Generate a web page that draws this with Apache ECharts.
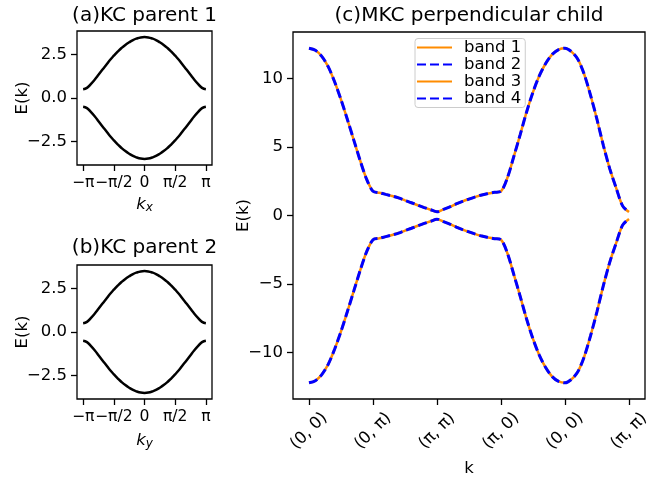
<!DOCTYPE html>
<html><head><meta charset="utf-8">
<script src="https://cdn.jsdelivr.net/npm/echarts@6/dist/echarts.min.js"></script>
<style>html,body{margin:0;padding:0;background:#fff}#c{width:667px;height:479px}</style>
</head><body><div id="c"></div>
<script>
// ---- data ----
// k in units of pi for the two parent chains
const kPi = [-1,-0.9375,-0.875,-0.8125,-0.75,-0.6875,-0.625,-0.5625,-0.5,-0.4375,-0.375,-0.3125,-0.25,-0.1875,-0.125,-0.0625,0,0.0625,0.125,0.1875,0.25,0.3125,0.375,0.4375,0.5,0.5625,0.625,0.6875,0.75,0.8125,0.875,0.9375,1];
const parent1Upper = [0.5,0.58,0.8,1.05,1.33,1.62,1.9,2.18,2.43,2.66,2.87,3.05,3.2,3.33,3.42,3.48,3.5,3.48,3.42,3.33,3.2,3.05,2.87,2.66,2.43,2.18,1.9,1.62,1.33,1.05,0.8,0.58,0.5];
const parent1Lower = [-0.5,-0.58,-0.8,-1.05,-1.33,-1.62,-1.9,-2.18,-2.43,-2.66,-2.87,-3.05,-3.2,-3.33,-3.42,-3.48,-3.5,-3.48,-3.42,-3.33,-3.2,-3.05,-2.87,-2.66,-2.43,-2.18,-1.9,-1.62,-1.33,-1.05,-0.8,-0.58,-0.5];
const parent2Upper = [0.5,0.58,0.8,1.05,1.33,1.62,1.9,2.18,2.43,2.66,2.87,3.05,3.2,3.33,3.42,3.48,3.5,3.48,3.42,3.33,3.2,3.05,2.87,2.66,2.43,2.18,1.9,1.62,1.33,1.05,0.8,0.58,0.5];
const parent2Lower = [-0.5,-0.58,-0.8,-1.05,-1.33,-1.62,-1.9,-2.18,-2.43,-2.66,-2.87,-3.05,-3.2,-3.33,-3.42,-3.48,-3.5,-3.48,-3.42,-3.33,-3.2,-3.05,-2.87,-2.66,-2.43,-2.18,-1.9,-1.62,-1.33,-1.05,-0.8,-0.58,-0.5];
const kTickValues = [-1,-0.5,0,0.5,1];
const kTickLabels = ['\u2212\u03c0','\u2212\u03c0/2','0','\u03c0/2','\u03c0'];
const parentYTicks = [-2.5,0,2.5];
const parentYLabels = ['\u22122.5','0.0','2.5'];

// path coordinate for the child (segments between high-symmetry points)
const pathT = [0,0.1,0.2,0.3,0.4,0.5,0.6,0.7,0.8,0.9,1.0,1.1,1.2,1.3,1.4,1.5,1.6,1.7,1.8,1.9,2.0,2.1,2.2,2.3,2.4,2.5,2.6,2.7,2.8,2.9,3.0,3.1,3.2,3.3,3.4,3.5,3.6,3.7,3.8,3.9,4.0,4.1,4.2,4.3,4.4,4.5,4.6,4.7,4.8,4.9,5.0];
const childUpper = [12.2,12.05,11.6,10.85,9.75,8.45,7.0,5.5,4.0,2.65,1.77,1.66,1.54,1.42,1.28,1.1,0.93,0.75,0.58,0.42,0.27,0.45,0.63,0.84,1.03,1.2,1.36,1.5,1.6,1.69,1.77,2.75,4.3,5.9,7.55,9.0,10.2,11.1,11.75,12.1,12.2,11.95,11.4,10.3,8.75,7.0,5.1,3.4,2.0,0.7,0.25];
const childLower = [-12.2,-12.05,-11.6,-10.85,-9.75,-8.45,-7.0,-5.5,-4.0,-2.65,-1.77,-1.66,-1.54,-1.42,-1.28,-1.1,-0.93,-0.75,-0.58,-0.42,-0.27,-0.45,-0.63,-0.84,-1.03,-1.2,-1.36,-1.5,-1.6,-1.69,-1.77,-2.75,-4.3,-5.9,-7.55,-9.0,-10.2,-11.1,-11.75,-12.1,-12.2,-11.95,-11.4,-10.3,-8.75,-7.0,-5.1,-3.4,-2.0,-0.7,-0.25];
const pathTickValues = [0,1,2,3,4,5];
const pathTickLabels = ['(0, 0)','(0, \u03c0)','(\u03c0, \u03c0)','(\u03c0, 0)','(0, 0)','(\u03c0, \u03c0)'];
const childYTicks = [-10,-5,0,5,10];
const childYLabels = ['\u221210','\u22125','0','5','10'];
const bandNames = ['band 1','band 2','band 3','band 4'];

// ---- chart ----
const FONT = 'DejaVu Sans';
const FS = 16.5;
const zip = (a,b) => a.map((v,i)=>[v,b[i]]);
const labelFor = (vals, labels) => v => { for (let i=0;i<vals.length;i++) if (Math.abs(v-vals[i])<1e-6) return labels[i]; return ''; };

function grid(left, top, width, height){
  return {left, top, width, height, show:true, borderColor:'#000', borderWidth:1.3, backgroundColor:'transparent', containLabel:false, outerBoundsMode:'none'};
}
function valAxis(gi, min, max, ticks, labels, extra){
  return Object.assign({
    type:'value', gridIndex:gi, min, max, scale:true,
    nameMoveOverlap:false,
    axisLine:{show:false, onZero:false}, splitLine:{show:false},
    axisTick:{show:true, length:6, inside:false, customValues:ticks, lineStyle:{color:'#000', width:1.3}},
    axisLabel:{customValues:ticks, formatter:labelFor(ticks, labels), color:'#000', fontSize:FS, fontFamily:FONT, margin:10, hideOverlap:false, showMinLabel:true, showMaxLabel:true}
  }, extra||{});
}
const nameStyle = {color:'#000', fontSize:FS, fontFamily:FONT};
const subRich = {k:{fontStyle:'italic', fontSize:FS, fontFamily:FONT, color:'#000'}, s:{fontStyle:'italic', fontSize:12, fontFamily:FONT, color:'#000', padding:[7,0,0,0]}};

function parentX(gi, sub, gap){
  const a = valAxis(gi,-1.1,1.1,kTickValues,kTickLabels,{name:'{k|k}{s|'+sub+'}', nameLocation:'middle', nameGap:gap, nameTextStyle:{rich:subRich}});
  a.axisLabel.fontSize = 15.6;
  return a;
}

const option = {
  backgroundColor:'#fff',
  animation:false,
  grid:[grid(77,31,135,134), grid(77,265,135,134), grid(293,32,352,367)],
  xAxis:[
    parentX(0,'x',30),
    parentX(1,'y',32),
    (function(){const a = valAxis(2,-0.25,5.25,pathTickValues,pathTickLabels,{name:'k', nameLocation:'middle', nameGap:61, nameTextStyle:nameStyle});
      a.axisLabel.rotate = 45; a.axisLabel.align='center'; a.axisLabel.verticalAlign='middle'; a.axisLabel.margin=32; return a;})()
  ],
  yAxis:[
    valAxis(0,-3.85,3.85,parentYTicks,parentYLabels,{name:'E(k)', nameLocation:'middle', nameGap:46, nameRotate:90, nameTextStyle:nameStyle}),
    valAxis(1,-3.85,3.85,parentYTicks,parentYLabels,{name:'E(k)', nameLocation:'middle', nameGap:46, nameRotate:90, nameTextStyle:nameStyle}),
    valAxis(2,-13.38,13.38,childYTicks,childYLabels,{name:'E(k)', nameLocation:'middle', nameGap:41, nameRotate:90, nameTextStyle:nameStyle})
  ],
  legend:{
    show:true, data:bandNames, orient:'vertical', left:415, top:38.5,
    itemWidth:35, itemHeight:10, itemGap:0, padding:[0.5,4,0.5,1],
    backgroundColor:'rgba(255,255,255,0.8)', borderColor:'#cccccc', borderWidth:1, borderRadius:3,
    itemStyle:{color:'transparent', borderColor:'transparent', borderWidth:0},
    textStyle:{color:'#000', fontSize:FS, fontFamily:FONT, lineHeight:16.5, padding:[0,0,0,7]},
    selectedMode:false
  },
  graphic:[
    {type:'text', x:144.5, y:15.5, style:{text:'(a)KC parent 1', fontSize:20, fontFamily:FONT, fill:'#000', align:'center', verticalAlign:'middle'}},
    {type:'text', x:144.5, y:248, style:{text:'(b)KC parent 2', fontSize:20, fontFamily:FONT, fill:'#000', align:'center', verticalAlign:'middle'}},
    {type:'text', x:469, y:15.5, style:{text:'(c)MKC perpendicular child', fontSize:20, fontFamily:FONT, fill:'#000', align:'center', verticalAlign:'middle'}}
  ],
  series:[
    {type:'line', name:'p1u', xAxisIndex:0, yAxisIndex:0, data:zip(kPi,parent1Upper), smooth:true, symbol:'none', lineStyle:{color:'#000', width:2.5}},
    {type:'line', name:'p1l', xAxisIndex:0, yAxisIndex:0, data:zip(kPi,parent1Lower), smooth:true, symbol:'none', lineStyle:{color:'#000', width:2.5}},
    {type:'line', name:'p2u', xAxisIndex:1, yAxisIndex:1, data:zip(kPi,parent2Upper), smooth:true, symbol:'none', lineStyle:{color:'#000', width:2.5}},
    {type:'line', name:'p2l', xAxisIndex:1, yAxisIndex:1, data:zip(kPi,parent2Lower), smooth:true, symbol:'none', lineStyle:{color:'#000', width:2.5}},
    {type:'line', name:bandNames[0], xAxisIndex:2, yAxisIndex:2, data:zip(pathT,childLower), smooth:0.3, symbol:'none', itemStyle:{color:'#ff8c00'}, lineStyle:{color:'#ff8c00', width:2.5}},
    {type:'line', name:bandNames[1], xAxisIndex:2, yAxisIndex:2, data:zip(pathT,childLower), smooth:0.3, symbol:'none', itemStyle:{color:'#0000ff'}, lineStyle:{color:'#0000ff', width:3, type:[9,4]}},
    {type:'line', name:bandNames[2], xAxisIndex:2, yAxisIndex:2, data:zip(pathT,childUpper), smooth:0.3, symbol:'none', itemStyle:{color:'#ff8c00'}, lineStyle:{color:'#ff8c00', width:2.5}},
    {type:'line', name:bandNames[3], xAxisIndex:2, yAxisIndex:2, data:zip(pathT,childUpper), smooth:0.3, symbol:'none', itemStyle:{color:'#0000ff'}, lineStyle:{color:'#0000ff', width:3, type:[9,4]}}
  ]
};
const chart = echarts.init(document.getElementById('c'), null, {renderer:'canvas'});
chart.setOption(option);
</script></body></html>
